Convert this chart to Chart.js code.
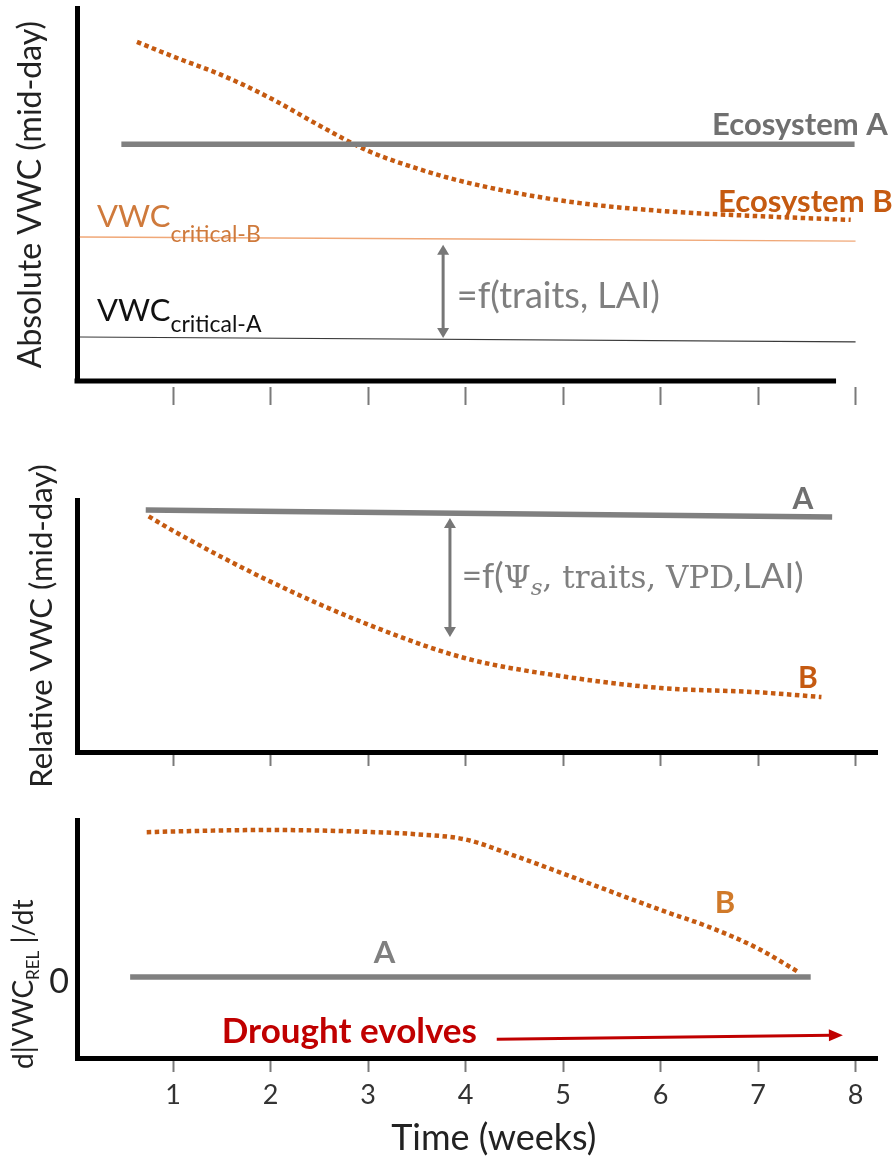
<!DOCTYPE html>
<html>
<head>
<meta charset="utf-8">
<script src="https://cdn.jsdelivr.net/npm/chart.js@4.4.1/dist/chart.umd.min.js"></script>
<style>
  body { margin: 0; background: #fff; }
  #wrap { position: relative; width: 894px; height: 1158px; }
  canvas { position: absolute; left: 0; }
</style>
</head>
<body>
<div id="wrap">
  <canvas id="absChart" width="894" height="420" style="top:0"></canvas>
  <canvas id="relChart" width="894" height="370" style="top:420px"></canvas>
  <canvas id="rateChart" width="894" height="368" style="top:790px"></canvas>
</div>
<script>
const weekTicks = [1, 2, 3, 4, 5, 6, 7, 8];

// Absolute VWC (mid-day)
const absWeeksA = [0.47, 7.99];
const absA = [63.5, 63.5];
const absWeeksB = [0.63, 1, 1.5, 2, 2.5, 3, 3.5, 4, 5, 6, 7, 7.95];
const absB = [90.9, 87.0, 82.0, 75.8, 68.5, 61.7, 57.0, 53.3, 48.3, 45.6, 44.2, 43.2];
const critWeeks = [0.045, 8.0];
const critB = [38.6, 37.5];
const critA = [11.8, 10.5];

// Relative VWC (mid-day)
const relWeeksA = [0.72, 7.76];
const relA = [96.0, 93.3];
const relWeeksB = [0.75, 1, 2, 3, 4, 5, 6, 7, 7.65];
const relB = [93.5, 87.8, 67.6, 50.6, 37.2, 30.0, 25.4, 23.7, 21.8];

// d|VWC_REL|/dt
const rateWeeksA = [0.56, 7.54];
const rateA = [0, 0];
const rateWeeksB = [0.73, 1, 2, 3, 3.5, 4, 4.5, 5, 5.5, 6, 6.5, 7, 7.42];
const rateB = [60.9, 61.2, 61.8, 61.0, 60.0, 57.8, 51.0, 43.5, 35.8, 28.2, 21.0, 12.0, 2.0];

const X_MIN = 0.015, X_MAX = 8.22;
const GREY = '#808080', ORANGE = '#c55a11', RED = '#c00000';

Chart.defaults.font.family = 'Lato';

function pts(xs, ys) {
  return xs.map((x, i) => ({ x: x, y: ys[i] }));
}

function solid(xs, ys, color, width) {
  return { data: pts(xs, ys), borderColor: color, borderWidth: width, clip: false };
}

function dotted(xs, ys) {
  return { data: pts(xs, ys), borderColor: ORANGE, borderWidth: 4.5, borderDash: [4.5, 3.5], clip: false };
}

function drawRuns(ctx, x, y, t) {
  ctx.save();
  ctx.translate(x, y);
  if (t.rotate) ctx.rotate(t.rotate);
  ctx.textBaseline = 'alphabetic';
  ctx.textAlign = 'left';
  let total = 0;
  t.runs.forEach(r => { ctx.font = r.font; r.w = ctx.measureText(r.t).width; total += r.w; });
  let cx = t.align === 'center' ? -total / 2 : t.align === 'right' ? -total : 0;
  t.runs.forEach(r => {
    ctx.font = r.font;
    ctx.fillStyle = r.color || t.color;
    ctx.fillText(r.t, cx, r.dy || 0);
    cx += r.w;
  });
  ctx.restore();
}

function drawArrow(ctx, x1, y1, x2, y2, a) {
  const ang = Math.atan2(y2 - y1, x2 - x1);
  const hl = a.headLen, hw = a.headWidth;
  ctx.save();
  ctx.strokeStyle = a.color;
  ctx.fillStyle = a.color;
  ctx.lineWidth = a.width;
  ctx.beginPath();
  const sx = a.both ? x1 + Math.cos(ang) * hl * 0.8 : x1;
  const sy = a.both ? y1 + Math.sin(ang) * hl * 0.8 : y1;
  ctx.moveTo(sx, sy);
  ctx.lineTo(x2 - Math.cos(ang) * hl * 0.8, y2 - Math.sin(ang) * hl * 0.8);
  ctx.stroke();
  const head = (px, py, dir) => {
    ctx.beginPath();
    ctx.moveTo(px, py);
    ctx.lineTo(px - Math.cos(dir) * hl - Math.sin(dir) * hw, py - Math.sin(dir) * hl + Math.cos(dir) * hw);
    ctx.lineTo(px - Math.cos(dir) * hl + Math.sin(dir) * hw, py - Math.sin(dir) * hl - Math.cos(dir) * hw);
    ctx.closePath();
    ctx.fill();
  };
  head(x2, y2, ang);
  if (a.both) head(x1, y1, ang + Math.PI);
  ctx.restore();
}

const notesPlugin = {
  id: 'notes',
  afterDraw(chart, args, opts) {
    const ctx = chart.ctx, xs = chart.scales.x, ys = chart.scales.y, area = chart.chartArea;
    if (opts.axisEnd) {
      ctx.save();
      ctx.strokeStyle = '#000';
      ctx.lineWidth = 5;
      ctx.beginPath();
      ctx.moveTo(area.left - 2.5, area.bottom);
      ctx.lineTo(xs.getPixelForValue(opts.axisEnd), area.bottom);
      ctx.stroke();
      ctx.restore();
    }
    (opts.arrows || []).forEach(a => drawArrow(ctx,
      xs.getPixelForValue(a.x1), ys.getPixelForValue(a.y1),
      xs.getPixelForValue(a.x2), ys.getPixelForValue(a.y2), a));
    (opts.texts || []).forEach(t => drawRuns(ctx,
      t.px !== undefined ? t.px : xs.getPixelForValue(t.x), ys.getPixelForValue(t.y), t));
  }
};

function makeChart(id, p) {
  return new Chart(document.getElementById(id), {
    type: 'line',
    data: { datasets: p.datasets },
    plugins: [notesPlugin],
    options: {
      responsive: false,
      animation: false,
      devicePixelRatio: 1,
      layout: { padding: { top: p.top, right: 17, left: 0, bottom: 0 } },
      elements: { point: { radius: 0 }, line: { cubicInterpolationMode: 'monotone', borderCapStyle: 'butt' } },
      plugins: { legend: { display: false }, tooltip: { enabled: false }, notes: p.notes },
      scales: {
        x: {
          type: 'linear', min: X_MIN, max: X_MAX,
          afterBuildTicks: s => { s.ticks = weekTicks.map(v => ({ value: v })); },
          afterFit: s => { s.height = p.xHeight; },
          grid: {
            drawOnChartArea: false, drawTicks: true, tickLength: p.tickLength || 14,
            tickBorderDash: p.tickDash || [], tickColor: '#7a7a7a', tickWidth: 2
          },
          border: { display: p.xBorder !== false, color: '#000', width: 5 },
          ticks: { display: !!p.tickLabels, padding: 7, color: '#333', font: { size: 27 } }
        },
        y: {
          type: 'linear', min: p.yMin, max: p.yMax,
          afterFit: s => { s.width = 77; },
          afterBuildTicks: s => { s.ticks = (p.yTicks || []).map(v => ({ value: v })); },
          grid: { display: false, drawTicks: false },
          border: { color: '#000', width: 5 },
          ticks: { display: !!p.yTicks, padding: 8, labelOffset: 5, color: '#222', font: { size: 34 } },
          title: p.yTitle || { display: false }
        }
      }
    }
  });
}

// Panel 1
makeChart('absChart', {
  top: 8, xHeight: 39, yMin: 0, yMax: 100, xBorder: false, tickLength: 24, tickDash: [0, 6, 18, 60],
  yTitle: { display: true, text: 'Absolute VWC (mid-day)', color: '#222', font: { size: 32 }, padding: { top: 11, bottom: 0 } },
  datasets: [
    solid(critWeeks, critB, '#f0a878', 1.5),
    solid(critWeeks, critA, '#3a3a3a', 1.2),
    solid(absWeeksA, absA, GREY, 5.5),
    dotted(absWeeksB, absB)
  ],
  notes: {
    axisEnd: 7.8,
    arrows: [{ x1: 3.77, y1: 36.5, x2: 3.77, y2: 11.5, color: '#777', width: 3, headLen: 10, headWidth: 6, both: true }],
    texts: [
      { x: 8.33, y: 66.0, align: 'right', color: '#707070', runs: [{ t: 'Ecosystem A', font: 'bold 31px Lato' }] },
      { x: 6.59, y: 45.3, align: 'left', color: ORANGE, runs: [{ t: 'Ecosystem B', font: 'bold 31px Lato' }] },
      { x: 0.22, y: 41.3, align: 'left', color: '#cf7a3c', runs: [{ t: 'VWC', font: '31px Lato' }, { t: 'critical-B', font: '23px Lato', dy: 15 }] },
      { x: 0.22, y: 16.1, align: 'left', color: '#111', runs: [{ t: 'VWC', font: '31px Lato' }, { t: 'critical-A', font: '23px Lato', dy: 11 }] },
      { x: 3.91, y: 19.6, align: 'left', color: '#7f7f7f', runs: [{ t: '=f(traits, LAI)', font: '36px Lato' }] }
    ]
  }
});

// Panel 2
makeChart('relChart', {
  top: 80, xHeight: 38, yMin: 0, yMax: 100,
  yTitle: { display: true, text: 'Relative VWC (mid-day)', color: '#222', font: { size: 31 }, padding: { top: 23, bottom: 0 } },
  datasets: [
    solid(relWeeksA, relA, GREY, 5.5),
    dotted(relWeeksB, relB)
  ],
  notes: {
    arrows: [{ x1: 3.84, y1: 92.9, x2: 3.84, y2: 45.6, color: '#777', width: 3, headLen: 10, headWidth: 6, both: true }],
    texts: [
      { x: 7.46, y: 96.4, align: 'center', color: '#707070', runs: [{ t: 'A', font: 'bold 30px Lato' }] },
      { x: 7.51, y: 25.4, align: 'center', color: ORANGE, runs: [{ t: 'B', font: 'bold 30px Lato' }] },
      { x: 3.96, y: 65.1, align: 'left', color: '#7f7f7f', runs: [
        { t: '=f(', font: '35px Lato' },
        { t: 'Ψ', font: '31px "DejaVu Serif"' },
        { t: 's', font: 'italic 23px "DejaVu Serif"', dy: 7 },
        { t: ', traits, VPD,', font: '31px "DejaVu Serif"' },
        { t: 'LAI)', font: '35px Lato' }
      ] }
    ]
  }
});

// Panel 3
makeChart('rateChart', {
  top: 30, xHeight: 100, yMin: -34, yMax: 66, tickLabels: true, yTicks: [0],
  datasets: [
    solid(rateWeeksA, rateA, GREY, 5.5),
    dotted(rateWeeksB, rateB)
  ],
  notes: {
    arrows: [{ x1: 4.32, y1: -26.1, x2: 7.87, y2: -24.4, color: RED, width: 3, headLen: 14, headWidth: 6 }],
    texts: [
      { x: 3.17, y: 5.9, align: 'center', color: '#808080', runs: [{ t: 'A', font: 'bold 31px Lato' }] },
      { x: 6.66, y: 26.9, align: 'center', color: '#d07a2a', runs: [{ t: 'B', font: 'bold 31px Lato' }] },
      { x: 1.50, y: -27.7, align: 'left', color: RED, runs: [{ t: 'Drought evolves', font: 'bold 35px Lato' }] },
      { x: 4.29, y: -72.7, align: 'center', color: '#222', runs: [{ t: 'Time (weeks)', font: '36px Lato' }] },
      { px: 33, y: -3, align: 'center', rotate: -Math.PI / 2, color: '#222', runs: [
        { t: 'd|VWC', font: '28px Lato' },
        { t: 'REL', font: '17px Lato', dy: 6 },
        { t: ' |/dt', font: '28px Lato' }
      ] }
    ]
  }
});
</script>
</body>
</html>
